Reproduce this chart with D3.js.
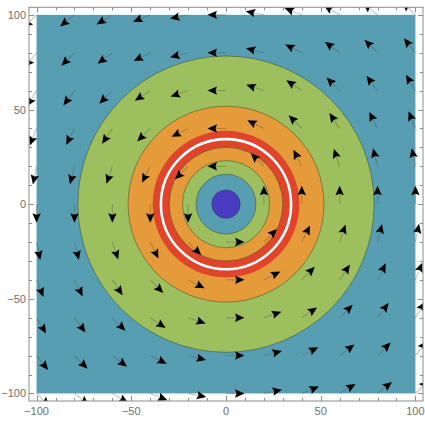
<!DOCTYPE html>
<html><head><meta charset="utf-8">
<script src="https://cdn.jsdelivr.net/npm/d3@7"></script>
<style>html,body{margin:0;padding:0;background:#fff;}svg{display:block;}</style>
</head><body>
<script>
// ---- data ----
const gridValues = [-100, -80, -60, -40, -20, 0, 20, 40, 60, 80, 100];
const regionNames = ["outerGreen", "outerOrange", "red", "innerOrange", "innerGreen", "teal", "core"];
const regionRadii = [78.2, 51.7, 38.7, 30, 23, 15.8, 7.5];
const whiteRingRadius = 34.35;
const xTickValues = [-100, -50, 0, 50, 100];
const yTickValues = [-100, -50, 0, 50, 100];
const xTickLabels = ["\u2212100", "\u221250", "0", "50", "100"];
const yTickLabels = ["\u2212100", "\u221250", "0", "50", "100"];

// ---- styles ----
const regionColor = d3.scaleOrdinal()
  .domain(["field", "outerGreen", "outerOrange", "red", "innerOrange", "innerGreen", "teal", "core"])
  .range(["#589eb3", "#9ebf5d", "#e59b3a", "#e0452b", "#e59b3a", "#9ebf5d", "#589eb3", "#4a3cc2"]);

const W = 425, H = 425;
const svg = d3.select("body").append("svg").attr("width", W).attr("height", H);
const x = d3.scaleLinear().domain([-104, 104]).range([29, 423]);
const y = d3.scaleLinear().domain([-104, 104]).range([401, 7.3]);

svg.append("defs").append("clipPath").attr("id", "clip")
  .append("rect").attr("x", x(-104)).attr("y", y(104))
  .attr("width", x(104) - x(-104)).attr("height", y(-104) - y(104));

const plot = svg.append("g").attr("clip-path", "url(#clip)");

// background field square
plot.append("rect")
  .attr("x", x(-100)).attr("y", y(100))
  .attr("width", x(100) - x(-100)).attr("height", y(-100) - y(100))
  .attr("fill", regionColor("field"));

const cx = x(0), cy = y(0);
const rpx = r => x(r) - x(0);
plot.selectAll("circle.region").data(regionNames).join("circle")
  .attr("class", "region")
  .attr("cx", cx).attr("cy", cy)
  .attr("r", (d, i) => rpx(regionRadii[i]))
  .attr("fill", d => regionColor(d))
  .attr("stroke", d => d === "red" ? "none" : "rgba(40,50,40,0.55)")
  .attr("stroke-width", 0.8);

plot.append("circle").attr("cx", cx).attr("cy", cy).attr("r", rpx(whiteRingRadius))
  .attr("fill", "none").attr("stroke", "#ffffff").attr("stroke-width", 2.6);

// vector field: counter-clockwise rotation (-y, x), normalized
const pts = [];
gridValues.forEach(gx => gridValues.forEach(gy => {
  if (gx !== 0 || gy !== 0) pts.push({gx, gy});
}));
const L = 18.5, hl = 9.5, hw = 4.2;
const arrows = plot.selectAll("g.arrow").data(pts).join("g").attr("class", "arrow")
  .attr("transform", d => {
    const vx = -d.gy, vy = d.gx;
    const sx = x(d.gx + vx) - x(d.gx), sy = y(d.gy + vy) - y(d.gy);
    const ang = Math.atan2(sy, sx) * 180 / Math.PI;
    return `translate(${x(d.gx)},${y(d.gy)}) rotate(${ang})`;
  });
arrows.append("line").attr("x1", 0).attr("y1", 0).attr("x2", L - hl + 1).attr("y2", 0)
  .attr("stroke", "rgba(70,70,70,0.35)").attr("stroke-width", 1);
arrows.append("path")
  .attr("d", `M${L},0 L${L - hl},${-hw} L${L - hl + 1.5},0 L${L - hl},${hw} Z`)
  .attr("fill", "#000");

// frame
const frameColor = "#8c8c8c";
svg.append("rect").attr("x", x(-104)).attr("y", y(104))
  .attr("width", x(104) - x(-104)).attr("height", y(-104) - y(104))
  .attr("fill", "none").attr("stroke", frameColor).attr("stroke-width", 1);

const minor = d3.range(-100, 101, 10);
const tg = svg.append("g").attr("stroke", frameColor).attr("stroke-width", 1);
minor.forEach(v => {
  const len = (v % 50 === 0) ? 5 : 3;
  const X = Math.round(x(v)) + 0.5, Y = Math.round(y(v)) + 0.5;
  tg.append("line").attr("x1", X).attr("x2", X).attr("y1", y(-104)).attr("y2", y(-104) - len);
  tg.append("line").attr("x1", X).attr("x2", X).attr("y1", y(104)).attr("y2", y(104) + len);
  tg.append("line").attr("y1", Y).attr("y2", Y).attr("x1", x(-104)).attr("x2", x(-104) + len);
  tg.append("line").attr("y1", Y).attr("y2", Y).attr("x1", x(104)).attr("x2", x(104) - len);
});

const labelColor = "#6e6e6e";
svg.append("g").selectAll("text").data(xTickValues).join("text")
  .attr("x", d => x(d)).attr("y", y(-104) + 14)
  .attr("text-anchor", "middle")
  .attr("font-family", "Liberation Sans, Arial, sans-serif").attr("font-size", 11)
  .attr("fill", labelColor)
  .text((d, i) => xTickLabels[i]);
svg.append("g").selectAll("text").data(yTickValues).join("text")
  .attr("x", x(-104) - 3).attr("y", d => y(d) + 4)
  .attr("text-anchor", "end")
  .attr("font-family", "Liberation Sans, Arial, sans-serif").attr("font-size", 11)
  .attr("fill", labelColor)
  .text((d, i) => yTickLabels[i]);
</script>
</body></html>
